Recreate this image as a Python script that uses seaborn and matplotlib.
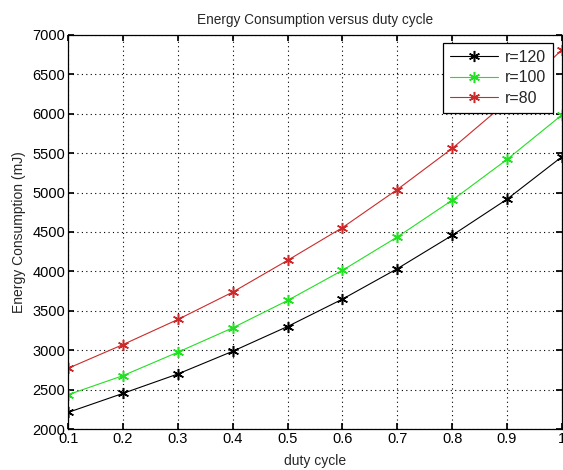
import pandas as pd
import matplotlib
matplotlib.use('Agg')
import matplotlib.pyplot as plt
import seaborn as sns

duty_cycle = [0.1, 0.2, 0.3, 0.4, 0.5, 0.6, 0.7, 0.8, 0.9, 1.0]
energy_r120 = [2212, 2453, 2699, 2987, 3301, 3648, 4034, 4457, 4915, 5453]
energy_r100 = [2436, 2678, 2975, 3284, 3631, 4013, 4436, 4902, 5419, 5983]
energy_r80 = [2771, 3072, 3390, 3737, 4140, 4555, 5038, 5559, 6150, 6809]
series_names = ['r=120', 'r=100', 'r=80']
line_colors = ['#000000', '#22e022', '#cc2a2a']

df = pd.DataFrame({
    'duty cycle': duty_cycle * 3,
    'energy': energy_r120 + energy_r100 + energy_r80,
    'series': [s for s in series_names for _ in duty_cycle],
})

sns.set_theme(style='white')
plt.rcParams['font.family'] = ['Liberation Sans', 'DejaVu Sans']

fig = plt.figure(figsize=(5.63, 4.70), dpi=100)
ax = fig.add_axes([0.121, 0.087, 0.877, 0.839])

sns.lineplot(data=df, x='duty cycle', y='energy', hue='series',
             palette=line_colors, marker=(6, 2, 0), markersize=8,
             linewidth=0.8, legend=False, ax=ax)

# asterisk markers are drawn by their edges only
for line, name in zip(ax.lines, series_names):
    line.set_markeredgecolor(line.get_color())
    line.set_markeredgewidth(1.1)
    line.set_label(name)

ax.set_xlim(0.1, 1.0)
ax.set_ylim(2000, 7000)
ax.set_xticks(duty_cycle)
ax.set_xticklabels(['0.1', '0.2', '0.3', '0.4', '0.5', '0.6', '0.7', '0.8', '0.9', '1'])
ax.set_yticks(range(2000, 7001, 500))
ax.grid(True, color='black', linestyle=(0, (1, 3)), linewidth=0.8)
ax.tick_params(direction='in', length=4, labelsize=10.5, colors='black', pad=2,
               top=True, right=True, bottom=True, left=True)
for sp in ax.spines.values():
    sp.set_color('black')
    sp.set_linewidth(0.9)

ax.set_title('Energy Consumption versus duty cycle', fontsize=9.8, pad=8)
ax.set_xlabel('duty cycle', fontsize=10, labelpad=6)
ax.set_ylabel('Energy Consumption (mJ)', fontsize=10, labelpad=5)

leg = ax.legend(loc='upper right', fontsize=11.5, frameon=True, fancybox=False,
                edgecolor='black', framealpha=1, borderaxespad=0,
                handlelength=3.0, handletextpad=0.4, labelspacing=0.35,
                borderpad=0.45, bbox_to_anchor=(0.982, 0.98))
leg.get_frame().set_linewidth(0.9)

fig.savefig('out.png', dpi=100)
